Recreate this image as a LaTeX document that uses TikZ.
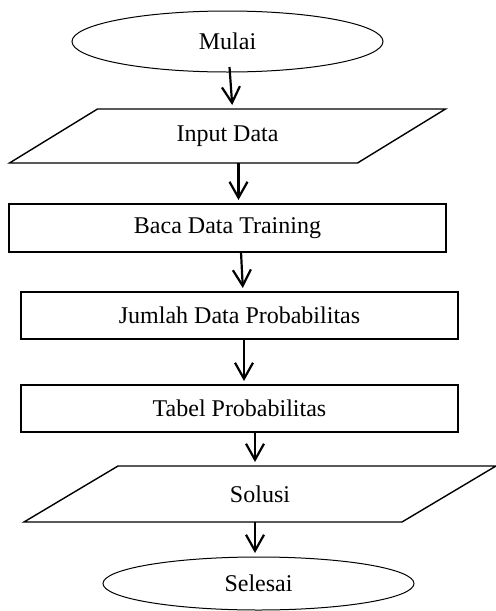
\documentclass[tikz,border=0pt]{standalone}
\usepackage{fontspec}
\setmainfont{Liberation Serif}
\usetikzlibrary{positioning}
\usetikzlibrary{arrows.meta}
\usetikzlibrary{shapes.geometric}

\begin{document}
\begin{tikzpicture}[font=\fontsize{12}{14}\selectfont,
	terminal/.style={draw, ellipse, line width=0.5pt, outer sep=0pt, minimum width=155.5pt},
	io/.style={rectangle, outer sep=0pt},
	garisio/.style={line width=0.7pt, line join=miter},
	proses/.style={draw, rectangle, line width=0.8pt, outer sep=0pt, minimum width=218.5pt, minimum height=23.5pt},
	panah/.style={-{Straight Barb[length=8pt,width=9pt]}, line width=1.1pt, shorten >=2pt}]
	\useasboundingbox (0,0) rectangle (248pt,-305.5pt);
	\node (mulai) [terminal, minimum height=30.5pt] at (113.75pt,-20.75pt) {Mulai};
	\node (input) [io, below=18.5pt of mulai, minimum width=218pt, minimum height=27pt] {Input Data};
	\node (baca) [proses, below=20.5pt of input, minimum height=24pt] {Baca Data Training};
	\node (jumlah) [proses, below=20pt of baca, xshift=6pt] {Jumlah Data Probabilitas};
	\node (tabel) [proses, below=23pt of jumlah] {Tabel Probabilitas};
	\node (solusi) [io, below=17pt of tabel, xshift=10.25pt, minimum width=236pt, minimum height=28pt] {Solusi};
	\node (selesai) [terminal, below=17.5pt of solusi, xshift=-0.75pt, minimum height=26.5pt] {Selesai};
	
	\draw[garisio] ([xshift=44pt]input.north west) -- (input.north east) -- ([xshift=-44pt]input.south east) -- (input.south west) -- cycle;
	\draw[garisio] ([xshift=47pt]solusi.north west) -- (solusi.north east) -- ([xshift=-47pt]solusi.south east) -- (solusi.south west) -- cycle;
	
	\draw[panah] ([xshift=1pt,yshift=2.5pt]mulai.south) -- ([xshift=2.5pt]input.north);
	\draw[panah] ([xshift=5.5pt]input.south) -- ([xshift=5.5pt]baca.north);
	\draw[panah] ([xshift=6.75pt]baca.south) -- ([xshift=1.75pt]jumlah.north);
	\draw[panah] ([xshift=2.25pt]jumlah.south) -- ([xshift=2.25pt]tabel.north);
	\draw[panah] ([xshift=7.75pt]tabel.south) -- ([xshift=-2.5pt]solusi.north);
	\draw[panah] ([xshift=-2.5pt]solusi.south) -- ([xshift=-1.75pt]selesai.north);
\end{tikzpicture}
\end{document}
